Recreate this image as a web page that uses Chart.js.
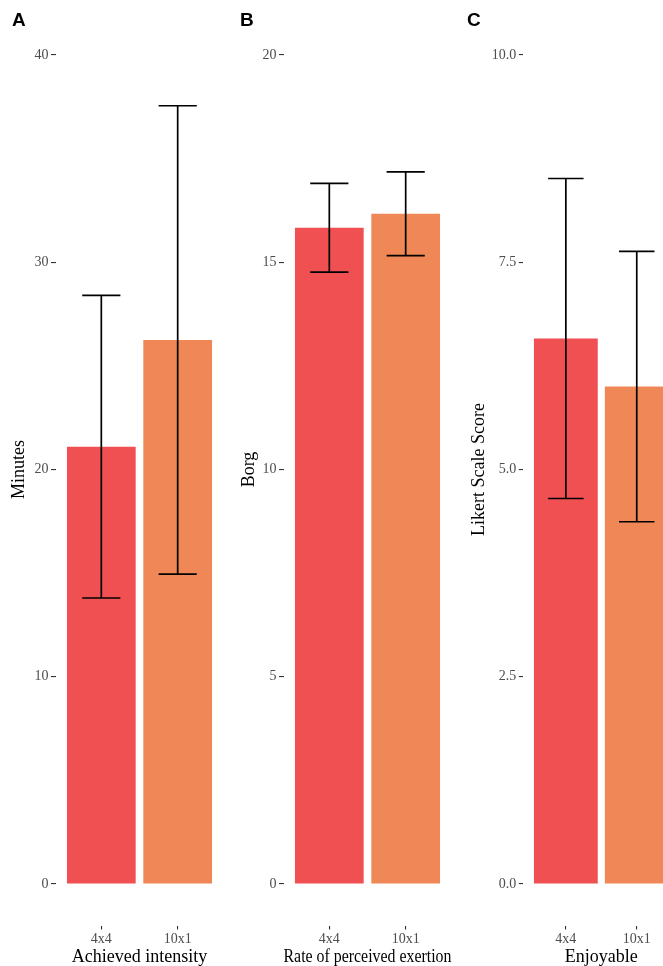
<!DOCTYPE html>
<html>
<head>
<meta charset="utf-8">
<script src="https://cdn.jsdelivr.net/npm/chart.js@4.4.1/dist/chart.umd.min.js"></script>
<style>
  html, body { margin: 0; padding: 0; background: #ffffff; overflow: hidden; }
  #wrap { position: relative; width: 663px; height: 966px; overflow: hidden; }
  .panel { position: absolute; top: 0; width: 230px; height: 966px; }
</style>
</head>
<body>
<div id="wrap">
  <div class="panel" style="left:0px"><canvas id="cA" width="230" height="966"></canvas></div>
  <div class="panel" style="left:230px"><canvas id="cB" width="230" height="966"></canvas></div>
  <div class="panel" style="left:460px"><canvas id="cC" width="230" height="966"></canvas></div>
</div>
<script>
// Protocol groups
const protocols = ['4x4', '10x1'];
const barColors = ['#F05052', '#EF8856'];

// A: achieved intensity (minutes), mean and SD
const intensityMean = [21.1, 26.25];
const intensitySD = [7.3, 11.3];
const intensityTicks = [0, 10, 20, 30, 40];

// B: rate of perceived exertion (Borg), mean and SD
const borgMean = [15.83, 16.17];
const borgSD = [1.07, 1.01];
const borgTicks = [0, 5, 10, 15, 20];

// C: enjoyment (Likert scale score), mean and SD
const likertMean = [6.58, 6.0];
const likertSD = [1.93, 1.63];
const likertTicks = [0, 2.5, 5, 7.5, 10];

const serif = '"Liberation Serif", "Times New Roman", serif';

// Draws mean ± SD whiskers on top of the bars
const errorBars = {
  id: 'errorBars',
  afterDatasetsDraw(chart, args, opts) {
    const { ctx, scales: { x, y } } = chart;
    const half = x.getPixelForValue(1.25) - x.getPixelForValue(1);
    ctx.save();
    ctx.strokeStyle = '#000000';
    ctx.lineWidth = 1.7;
    ctx.lineCap = 'butt';
    opts.mean.forEach((m, i) => {
      const px = x.getPixelForValue(i + 1);
      const top = y.getPixelForValue(m + opts.sd[i]);
      const bot = y.getPixelForValue(m - opts.sd[i]);
      ctx.beginPath();
      ctx.moveTo(px, top); ctx.lineTo(px, bot);
      ctx.moveTo(px - half, top); ctx.lineTo(px + half, top);
      ctx.moveTo(px - half, bot); ctx.lineTo(px + half, bot);
      ctx.stroke();
    });
    ctx.restore();
  }
};

// Panel tag letter in the top-left corner
const panelTag = {
  id: 'panelTag',
  afterDraw(chart, args, opts) {
    const ctx = chart.ctx;
    ctx.save();
    ctx.fillStyle = '#000000';
    ctx.font = 'bold 19px "Liberation Sans", Arial, sans-serif';
    ctx.textBaseline = 'alphabetic';
    ctx.textAlign = 'left';
    ctx.fillText(opts.text, opts.x, 25.7);
    ctx.restore();
  }
};

function makePanel(id, cfg) {
  const lo = cfg.ticks[0];
  const hi = cfg.ticks[cfg.ticks.length - 1];
  const pad = (hi - lo) * 0.05;
  new Chart(document.getElementById(id), {
    type: 'bar',
    data: {
      datasets: [{
        data: cfg.mean.map((v, i) => ({ x: i + 1, y: v })),
        backgroundColor: barColors,
        borderWidth: 0,
        categoryPercentage: 0.9,
        barPercentage: 1.0
      }]
    },
    options: {
      responsive: false,
      animation: false,
      layout: { padding: { top: 13.5, right: cfg.rightPad, bottom: 0, left: 0 } },
      plugins: {
        legend: { display: false },
        tooltip: { enabled: false },
        errorBars: { mean: cfg.mean, sd: cfg.sd },
        panelTag: { text: cfg.tag, x: cfg.tagX }
      },
      scales: {
        x: {
          type: 'linear',
          min: 0.4,
          max: 2.6,
          offset: false,
          afterBuildTicks: s => { s.ticks = protocols.map((p, i) => ({ value: i + 1 })); },
          afterFit: s => { s.height = 40.5; },
          ticks: {
            callback: (v) => protocols[Math.round(v) - 1] || '',
            color: '#4D4D4D',
            font: { family: serif, size: 14 },
            padding: 1,
            maxRotation: 0,
            autoSkip: false
          },
          grid: { display: true, offset: false, drawOnChartArea: false, drawTicks: true, tickLength: 4, color: '#333333', lineWidth: 1.1 },
          border: { display: false },
          title: {
            display: true,
            text: cfg.xTitle,
            color: '#000000',
            font: { family: serif, size: 18, lineHeight: 1.0 },
            padding: { top: 0, bottom: 0 }
          }
        },
        y: {
          type: 'linear',
          min: lo - pad,
          max: hi + pad,
          afterBuildTicks: s => { s.ticks = cfg.ticks.map(v => ({ value: v })); },
          afterFit: s => { s.width = cfg.axisWidth; },
          ticks: {
            callback: (v) => cfg.decimals ? v.toFixed(cfg.decimals) : String(v),
            color: '#4D4D4D',
            font: { family: serif, size: 14 },
            padding: 2.5
          },
          grid: { display: true, drawOnChartArea: false, drawTicks: true, tickLength: 4.5, color: '#333333', lineWidth: 1.1 },
          border: { display: false },
          title: {
            display: true,
            text: cfg.yTitle,
            color: '#000000',
            font: { family: serif, size: 18 },
            padding: { top: 8.7, bottom: 0 }
          }
        }
      }
    },
    plugins: [errorBars, panelTag]
  });
}

makePanel('cA', {
  tag: 'A', tagX: 12, mean: intensityMean, sd: intensitySD, ticks: intensityTicks,
  decimals: 0, yTitle: 'Minutes', xTitle: 'Achieved intensity',
  axisWidth: 55.5, rightPad: 6.5
});
makePanel('cB', {
  tag: 'B', tagX: 10, mean: borgMean, sd: borgSD, ticks: borgTicks,
  decimals: 0, yTitle: 'Borg', xTitle: 'Rate of perceived exertion',
  axisWidth: 53.5, rightPad: 8.5
});
makePanel('cC', {
  tag: 'C', tagX: 7, mean: likertMean, sd: likertSD, ticks: likertTicks,
  decimals: 1, yTitle: 'Likert Scale Score', xTitle: 'Enjoyable',
  axisWidth: 63.3, rightPad: 10.7
});
</script>
</body>
</html>
